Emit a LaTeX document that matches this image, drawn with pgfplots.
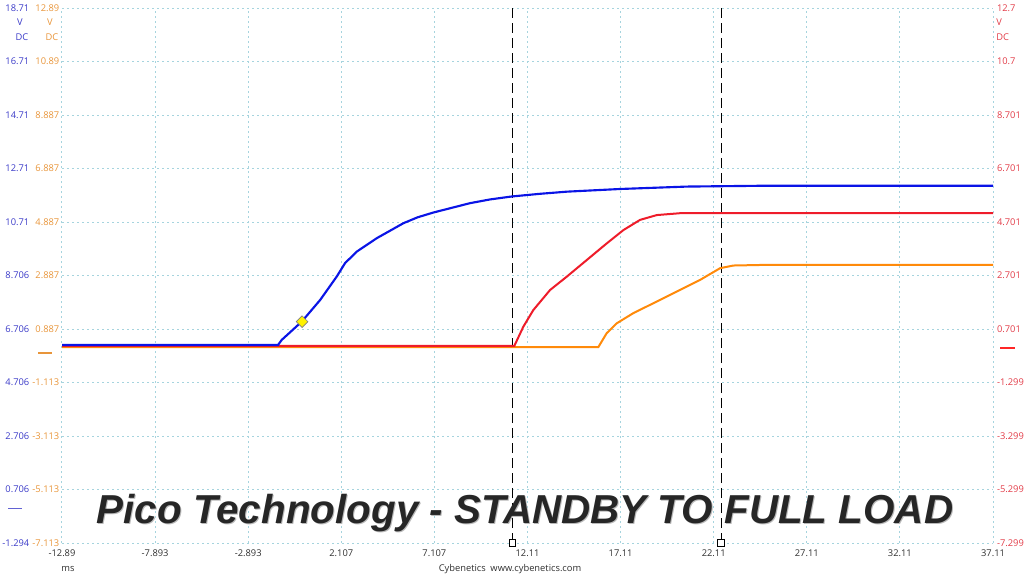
\documentclass[border=0pt]{standalone}
\usepackage{pgfplots}
\pgfplotsset{compat=1.18}
\usepackage{fontspec}
\setmainfont{Open Sans}
\newfontfamily\titlefont{Liberation Sans}
\definecolor{lblue}{HTML}{3B3BC8}
\definecolor{lorange}{HTML}{E8953A}
\definecolor{lred}{HTML}{E23C48}
\definecolor{cblue}{HTML}{0A14E6}
\definecolor{cred}{HTML}{EE1C2A}
\definecolor{corange}{HTML}{FF8A0A}
\definecolor{gridc}{HTML}{A6D4DE}
\definecolor{tickc}{HTML}{303030}
\newcommand\LT[2]{\makebox[21pt][r]{\textcolor{lblue}{#1}}\makebox[22.5pt][r]{\textcolor{lorange}{#2}}}
\pgfplotsset{
  base/.style={at={(46.5pt,24.75pt)}, anchor=south west, scale only axis,
    width=698.25pt, height=401.25pt, xmin=-12.893, xmax=37.107, clip=false},
}
\begin{document}
\begin{tikzpicture}
\useasboundingbox (0,0) rectangle (768pt,432pt);
% grid + left labels + cursors
\begin{axis}[base, ymin=-1.294, ymax=18.706,
  axis line style={draw=none}, tick style={draw=none}, major tick length=0pt,
  xtick={-12.893,-7.893,-2.893,2.107,7.107,12.107,17.107,22.107,27.107,32.107,37.107},
  xticklabels={-12.89,-7.893,-2.893,2.107,7.107,12.11,17.11,22.11,27.11,32.11,37.11},
  ytick={-1.294,0.706,2.706,4.706,6.706,8.706,10.706,12.706,14.706,16.706,18.706},
  yticklabels={{\LT{-1.294}{-7.113}},{\LT{0.706}{-5.113}},{\LT{2.706}{-3.113}},{\LT{4.706}{-1.113}},{\LT{6.706}{0.887}},{\LT{8.706}{2.887}},{\LT{10.71}{4.887}},{\LT{12.71}{6.887}},{\LT{14.71}{8.887}},{\LT{16.71}{10.89}},{\LT{18.71}{12.89}}},
  grid=major, major grid style={gridc, dash pattern=on 1.5pt off 2.25pt, line width=0.75pt},
  tick label style={font=\fontsize{7}{8.5}\selectfont},
  xticklabel style={text=tickc, yshift=-1.5pt},
  yticklabel style={anchor=east, xshift=1.5pt},
]
\addplot[black, dash pattern=on 7.5pt off 3.75pt, line width=0.75pt] coordinates {(11.28,-1.294) (11.28,18.706)};
\addplot[black, dash pattern=on 7.5pt off 3.75pt, line width=0.75pt] coordinates {(22.50,-1.294) (22.50,18.706)};
\addplot[only marks, mark=square*, mark size=2.4pt, mark options={fill=white, draw=black, line width=0.6pt}] coordinates {(11.28,-1.294) (22.50,-1.294)};
\coordinate (bz) at (axis cs:-12.893,0);
\end{axis}
% orange
\begin{axis}[base, ymin=-7.113, ymax=12.887, hide axis]
\addplot[corange, line width=1.5pt] coordinates {(-12.893,0.21) (15.91,0.21) (16.36,0.73) (16.90,1.10) (17.79,1.48) (19.59,2.10) (21.37,2.72) (22.45,3.16) (23.16,3.26) (24.60,3.28) (37.107,3.28)};
\coordinate (oz) at (axis cs:-12.893,0);
\end{axis}
% red + right labels
\begin{axis}[base, ymin=-7.299, ymax=12.701,
  axis line style={draw=none}, tick style={draw=none}, major tick length=0pt,
  xtick=\empty,
  ytick={-7.299,-5.299,-3.299,-1.299,0.701,2.701,4.701,6.701,8.701,10.701,12.701},
  yticklabels={-7.299,-5.299,-3.299,-1.299,0.701,2.701,4.701,6.701,8.701,10.7,12.7},
  yticklabel pos=right,
  tick label style={font=\fontsize{7}{8.5}\selectfont},
  yticklabel style={text=lred, anchor=west, xshift=-0.5pt},
]
\addplot[cred, line width=1.5pt] coordinates {(-12.893,0.07) (11.40,0.07) (11.885,0.79) (12.42,1.41) (13.32,2.16) (14.22,2.66) (15.29,3.28) (16.36,3.90) (17.26,4.40) (18.15,4.78) (19.05,4.96) (20.30,5.03) (37.107,5.03)};
\coordinate (rz) at (axis cs:37.107,0);
\end{axis}
% blue
\begin{axis}[base, ymin=-1.294, ymax=18.706, hide axis]
\addplot[cblue, line width=1.6pt] coordinates {(-12.893,6.11) (-1.29,6.11) (-1.09,6.30) (-0.02,6.98) (0.97,7.79) (1.86,8.665) (2.31,9.17) (2.94,9.60) (4.01,10.10) (5.44,10.66) (6.2,10.88) (7.05,11.06) (9.02,11.41) (10.1,11.55) (11.26,11.66) (12.78,11.76) (14.22,11.84) (17.08,11.94) (20.66,12.03) (24.60,12.06) (37.107,12.06)};
\addplot[only marks, mark=square*, mark size=3.1pt, mark options={rotate=45, fill=yellow, draw=gray, line width=0.5pt}] coordinates {(0,6.98)};
\end{axis}
% zero-level markers
\draw[draw=lblue!80, line width=1.2pt] ([xshift=-40.5pt]bz) -- ([xshift=-30pt]bz);
\draw[draw=lorange, line width=1.2pt] ([xshift=-18pt]oz) -- ([xshift=-7.5pt]oz);
\draw[draw=red!85!white, line width=1.4pt] ([xshift=5.25pt]rz) -- ([xshift=16.5pt]rz);
% unit labels
\begin{scope}[font=\fontsize{7}{8.5}\selectfont]
\node[text=lblue] at (15pt,415.5pt) {V};
\node[text=lblue] at (16.5pt,404pt) {DC};
\node[text=lorange] at (37.5pt,415.5pt) {V};
\node[text=lorange] at (39pt,404pt) {DC};
\node[text=lred, anchor=west, inner sep=0pt] at (747pt,415.5pt) {V};
\node[text=lred, anchor=west, inner sep=0pt] at (747pt,404pt) {DC};
\node[text=tickc] at (51pt,5.25pt) {ms};
\node[text=tickc] at (382.5pt,5.25pt) {Cybenetics\enspace www.cybenetics.com};
\end{scope}
% watermark title
\node[anchor=base, text=gray!55, font=\titlefont\bfseries\itshape\fontsize{30.3}{36}\selectfont] at (394.5pt,38.5pt) {Pico Technology - STANDBY TO FULL LOAD};
\node[anchor=base, text=black!85, font=\titlefont\bfseries\itshape\fontsize{30.3}{36}\selectfont] at (393.75pt,39.75pt) {Pico Technology - STANDBY TO FULL LOAD};
\end{tikzpicture}
\end{document}
